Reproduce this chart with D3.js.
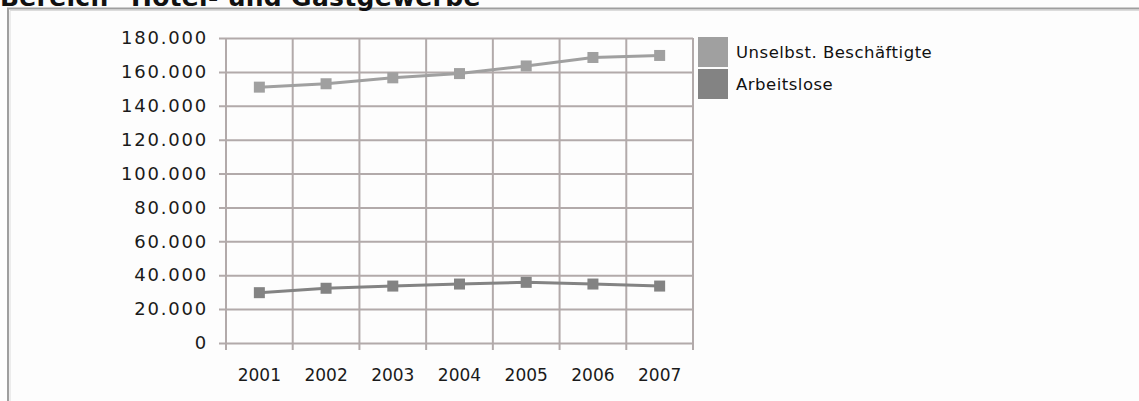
<!DOCTYPE html>
<html>
<head>
<meta charset="utf-8">
<script src="https://cdn.jsdelivr.net/npm/d3@7"></script>
<style>
  html, body { margin: 0; padding: 0; background: #fdfdfd; }
  svg { display: block; }
</style>
</head>
<body>
<div id="chart"></div>
<script>
// Data
const years = ['2001', '2002', '2003', '2004', '2005', '2006', '2007'];
const beschaeftigte = [151000, 153000, 156500, 159000, 163500, 168500, 169700];
const arbeitslose = [29700, 32300, 33600, 34800, 35800, 34800, 33600];
const seriesNames = ['Unselbst. Beschäftigte', 'Arbeitslose'];
const yTicks = [0, 20000, 40000, 60000, 80000, 100000, 120000, 140000, 160000, 180000];
const title = 'Bereich "Hotel- und Gastgewerbe"';

document.addEventListener('DOMContentLoaded', function() {
    drawChart();
});

function drawChart() {
    const width = 1139;
    const height = 401;

    const svg = d3.select('#chart').append('svg')
        .attr('width', width)
        .attr('height', height);

    svg.append('rect')
        .attr('width', width)
        .attr('height', height)
        .attr('fill', '#fdfdfd');

    // Frame (top and left edge visible)
    svg.append('path')
        .attr('d', 'M8,' + height + ' V8.5 H' + width)
        .attr('fill', 'none')
        .attr('stroke', '#9e9e9e')
        .attr('stroke-width', 2);
    svg.append('path')
        .attr('d', 'M10,' + height + ' V10.5 H' + width)
        .attr('fill', 'none')
        .attr('stroke', '#dcdcdc')
        .attr('stroke-width', 1);

    // Title, top of it cut off by the window edge as in the reference
    svg.append('text')
        .attr('x', 0)
        .attr('y', 6)
        .attr('font-family', 'DejaVu Sans, Verdana, sans-serif')
        .attr('font-weight', 'bold')
        .attr('font-size', '25px')
        .attr('letter-spacing', '0.3px')
        .attr('fill', '#111')
        .text(title);

    const plot = { left: 226, right: 693, top: 38, bottom: 343 };
    const gridColor = '#b2aaaa';

    const x = d3.scaleBand()
        .domain(years)
        .range([plot.left, plot.right])
        .padding(0);

    const y = d3.scaleLinear()
        .domain([0, 180000])
        .range([plot.bottom, plot.top]);

    const de = d3.formatLocale({ decimal: ',', thousands: '.', grouping: [3], currency: ['', ' €'] });
    const fmt = de.format(',d');

    // Horizontal gridlines + y labels
    const yAxis = svg.append('g')
        .attr('transform', `translate(${plot.left},0)`)
        .call(d3.axisLeft(y)
            .tickValues(yTicks)
            .tickFormat(fmt)
            .tickSizeInner(-(plot.right - plot.left))
            .tickSizeOuter(0)
            .tickPadding(18));
    yAxis.select('.domain').remove();
    yAxis.selectAll('.tick line')
        .attr('x1', -7)
        .attr('stroke', gridColor)
        .attr('stroke-width', 2);
    yAxis.selectAll('.tick text')
        .attr('font-family', 'DejaVu Sans, Verdana, sans-serif')
        .attr('font-size', '18px')
        .attr('letter-spacing', '1.8px')
        .attr('fill', '#1a1a1a');

    // Vertical gridlines at category boundaries, with ticks below the axis
    const bounds = years.map(d => x(d)).concat([plot.right]);
    svg.append('g').selectAll('line')
        .data(bounds)
        .enter()
        .append('line')
        .attr('x1', d => d)
        .attr('x2', d => d)
        .attr('y1', plot.top)
        .attr('y2', plot.bottom + 7)
        .attr('stroke', gridColor)
        .attr('stroke-width', 2);

    // Year labels
    svg.append('g').selectAll('text')
        .data(years)
        .enter()
        .append('text')
        .attr('x', d => x(d) + x.bandwidth() / 2)
        .attr('y', 381)
        .attr('text-anchor', 'middle')
        .attr('font-family', 'DejaVu Sans, Verdana, sans-serif')
        .attr('font-size', '17px')
        .attr('fill', '#1a1a1a')
        .text(d => d);

    // Series
    const series = [
        { name: seriesNames[0], values: beschaeftigte, color: '#a0a0a0' },
        { name: seriesNames[1], values: arbeitslose, color: '#838383' }
    ];

    const line = d3.line()
        .x((d, i) => x(years[i]) + x.bandwidth() / 2)
        .y(d => y(d));

    const markerSize = 11;

    series.forEach(s => {
        svg.append('path')
            .attr('d', line(s.values))
            .attr('fill', 'none')
            .attr('stroke', s.color)
            .attr('stroke-width', 3);

        svg.append('g').selectAll('rect')
            .data(s.values)
            .enter()
            .append('rect')
            .attr('x', (d, i) => x(years[i]) + x.bandwidth() / 2 - markerSize / 2)
            .attr('y', d => y(d) - markerSize / 2)
            .attr('width', markerSize)
            .attr('height', markerSize)
            .attr('fill', s.color);
    });

    // Legend
    const legend = svg.append('g')
        .attr('transform', 'translate(698,37)');

    const items = legend.selectAll('g')
        .data(series)
        .enter()
        .append('g')
        .attr('transform', (d, i) => `translate(0, ${i * 32})`);

    items.append('rect')
        .attr('width', 30)
        .attr('height', 30)
        .attr('fill', d => d.color);

    items.append('text')
        .attr('x', 38)
        .attr('y', 21)
        .attr('font-family', 'DejaVu Sans, Verdana, sans-serif')
        .attr('font-size', '16.5px')
        .attr('letter-spacing', '0.5px')
        .attr('fill', '#111')
        .text(d => d.name);
}
</script>
</body>
</html>
